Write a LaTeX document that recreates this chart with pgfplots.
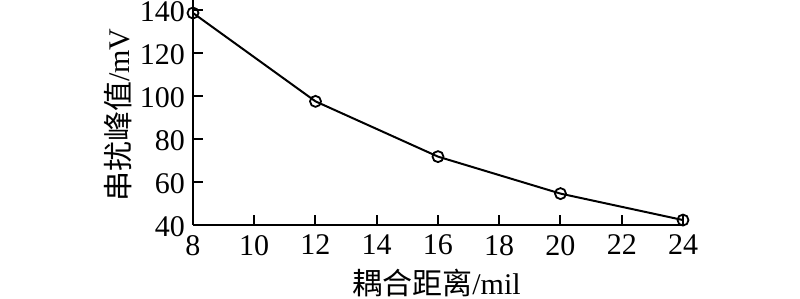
\documentclass[border=0pt]{standalone}
\usepackage{fontspec}
\setmainfont{Liberation Serif}
\newfontfamily\cjk{Noto Sans CJK SC}
\usepackage{pgfplots}
\pgfplotsset{compat=1.18}
\begin{document}
\begin{tikzpicture}
\useasboundingbox (0,0) rectangle (400pt,149.5pt);
\begin{axis}[
  at={(96.5pt,37pt)}, anchor=south west,
  scale only axis, width=245pt, height=112.5pt,
  xmin=8, xmax=24, ymin=40, ymax=144.65,
  axis x line*=bottom, axis y line*=left,
  axis line style={line width=1pt},
  xtick={8,10,...,24}, ytick={40,60,...,140},
  tick align=inside, major tick length=5pt,
  tick style={line width=1pt, black},
  /pgf/number format/assume math mode=true,
  ticklabel style={font=\fontsize{15}{17}\selectfont},
  yticklabel style={xshift=-0.5pt, yshift=-1pt},
  xticklabel style={yshift=-1.5pt},
  xlabel={{\cjk 耦合距离}/mil},
  ylabel={{\cjk 串扰峰值}/mV},
  label style={font=\fontsize{15}{17}\selectfont},
  xlabel style={at={(axis description cs:0.497,-0.257)}, anchor=center},
  ylabel style={at={(axis description cs:-0.153,0.488)}, anchor=center},
]
\addplot[black, line width=1pt, mark=o, mark size=2.75pt, mark options={line width=0.9pt}]
coordinates {(8,138.6) (12,97.5) (16,71.8) (20,54.6) (24,42.3)};
\end{axis}
\end{tikzpicture}
\end{document}
